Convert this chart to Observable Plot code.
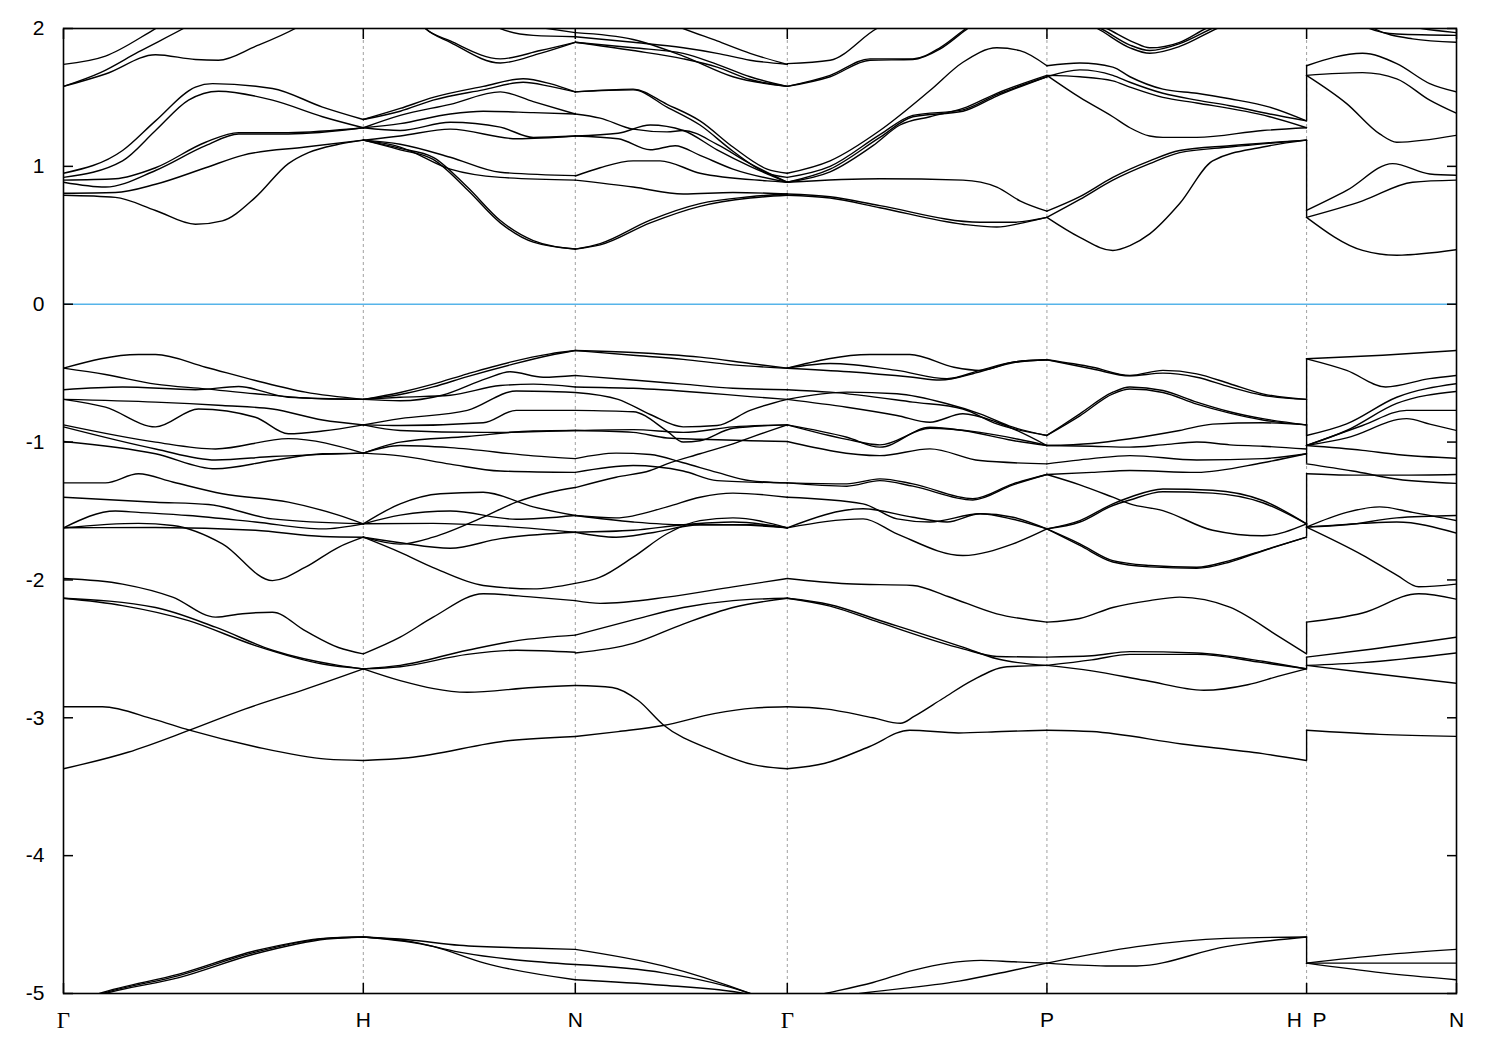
<!DOCTYPE html>
<html><head><meta charset="utf-8">
<script src="https://cdn.jsdelivr.net/npm/d3@7"></script>
<script src="https://cdn.jsdelivr.net/npm/@observablehq/plot@0.6"></script>
<style>body{margin:0;background:#fff}</style>
</head><body><div id="chart"></div>
<script>
// high-symmetry points along the k-path (units of 2π/a) and their labels
const kPoints = [0, 1, 1.7071, 2.4142, 3.2802, 4.1463, 4.6463];
const kLabels = ["Γ", "H", "N", "Γ", "P", "H\u2002P", "N"];
const yTicks = [-5, -4, -3, -2, -1, 0, 1, 2];

// bands per segment: each band is a list of [k, E(eV)]
const bandsGH = [
  [[0,1.74],[0.14,1.80],[0.30,1.99],[0.37,2.08]],
  [[0,1.58],[0.14,1.67],[0.307,1.81],[0.44,1.775],[0.517,1.77],[0.64,1.87],[0.773,2.0],[0.85,2.1]],
  [[0,1.58],[0.123,1.68],[0.25,1.83],[0.40,2.0],[0.45,2.06]],
  [[0,0.95],[0.197,1.115],[0.307,1.33],[0.44,1.575],[0.497,1.60],[0.697,1.565],[0.864,1.43],[1,1.34]],
  [[0,0.92],[0.197,1.04],[0.307,1.26],[0.417,1.48],[0.517,1.545],[0.697,1.48],[0.864,1.36],[1,1.28]],
  [[0,0.885],[0.14,0.85],[0.307,0.97],[0.474,1.15],[0.584,1.235],[0.75,1.235],[1,1.28]],
  [[0,0.90],[0.173,0.91],[0.307,0.99],[0.474,1.175],[0.584,1.245],[0.75,1.245],[1,1.28]],
  [[0,0.805],[0.173,0.81],[0.307,0.87],[0.474,0.99],[0.597,1.08],[0.807,1.14],[1,1.19]],
  [[0,0.79],[0.173,0.775],[0.307,0.68],[0.44,0.58],[0.53,0.605],[0.64,0.775],[0.75,1.02],[0.817,1.10],[0.917,1.16],[1,1.19]],
  [[0,-0.464],[0.25,-0.365],[0.307,-0.365],[0.474,-0.457],[0.64,-0.553],[0.807,-0.638],[1,-0.69]],
  [[0,-0.464],[0.14,-0.51],[0.307,-0.58],[0.474,-0.614],[0.64,-0.65],[0.864,-0.686],[1,-0.69]],
  [[0,-0.62],[0.197,-0.60],[0.44,-0.62],[0.584,-0.597],[0.75,-0.675],[1,-0.69]],
  [[0,-0.69],[0.307,-0.71],[0.53,-0.735],[0.697,-0.76],[0.864,-0.84],[1,-0.875]],
  [[0,-0.69],[0.14,-0.747],[0.307,-0.89],[0.45,-0.76],[0.64,-0.82],[0.75,-0.94],[0.864,-0.92],[1,-0.875]],
  [[0,-0.875],[0.307,-1.0],[0.507,-1.05],[0.75,-0.975],[1,-1.08]],
  [[0,-0.89],[0.307,-1.05],[0.507,-1.13],[0.697,-1.105],[1,-1.08]],
  [[0,-0.996],[0.307,-1.085],[0.507,-1.194],[0.697,-1.134],[0.864,-1.085],[1,-1.08]],
  [[0,-1.296],[0.14,-1.296],[0.25,-1.23],[0.364,-1.29],[0.53,-1.375],[0.75,-1.436],[0.917,-1.53],[1,-1.593]],
  [[0,-1.40],[0.307,-1.436],[0.484,-1.453],[0.697,-1.557],[1,-1.593]],
  [[0,-1.622],[0.173,-1.50],[0.25,-1.51],[0.417,-1.533],[0.64,-1.58],[0.864,-1.63],[1,-1.593]],
  [[0,-1.622],[0.25,-1.59],[0.364,-1.605],[0.53,-1.738],[0.697,-2.005],[0.807,-1.908],[0.917,-1.763],[1,-1.69]],
  [[0,-1.622],[0.307,-1.62],[0.64,-1.64],[0.864,-1.685],[1,-1.69]],
  [[0,-1.99],[0.197,-2.03],[0.364,-2.125],[0.507,-2.27],[0.597,-2.245],[0.697,-2.234],[0.807,-2.37],[0.917,-2.49],[1,-2.536]],
  [[0,-2.133],[0.307,-2.20],[0.507,-2.343],[0.697,-2.51],[0.917,-2.62],[1,-2.645]],
  [[0,-2.133],[0.197,-2.186],[0.417,-2.295],[0.64,-2.476],[0.864,-2.61],[1,-2.645]],
  [[0,-2.92],[0.13,-2.92],[0.30,-3.01],[0.42,-3.09],[0.64,-3.21],[0.878,-3.30],[1,-3.31]],
  [[0,-3.37],[0.215,-3.25],[0.42,-3.09],[0.607,-2.935],[0.81,-2.79],[1,-2.645]],
  [[0,-5.1],[0.13,-5.0],[0.385,-4.87],[0.64,-4.70],[0.878,-4.60],[1,-4.59]],
  [[0,-5.1],[0.14,-5.0],[0.385,-4.885],[0.64,-4.712],[0.878,-4.605],[1,-4.59]],
  [[0,-5.1],[0.12,-5.0],[0.385,-4.86],[0.64,-4.69],[0.878,-4.598],[1,-4.59]]
];

const bandsHN = [
  [[1,1.34],[1.123,1.42],[1.233,1.50],[1.40,1.58],[1.533,1.635],[1.623,1.60],[1.707,1.54]],
  [[1,1.34],[1.123,1.40],[1.233,1.48],[1.40,1.555],[1.533,1.61],[1.623,1.58],[1.707,1.54]],
  [[1,1.28],[1.123,1.37],[1.29,1.45],[1.457,1.54],[1.567,1.47],[1.707,1.38]],
  [[1,1.28],[1.123,1.31],[1.29,1.38],[1.40,1.40],[1.567,1.39],[1.707,1.38]],
  [[1,1.28],[1.123,1.26],[1.29,1.32],[1.457,1.285],[1.567,1.21],[1.707,1.22]],
  [[1,1.19],[1.123,1.22],[1.29,1.27],[1.513,1.20],[1.707,1.22]],
  [[1,1.19],[1.123,1.16],[1.29,1.066],[1.457,0.957],[1.707,0.933]],
  [[1,1.19],[1.123,1.14],[1.29,0.98],[1.457,0.92],[1.707,0.90]],
  [[1,1.19],[1.123,1.13],[1.233,1.066],[1.347,0.85],[1.457,0.607],[1.567,0.462],[1.707,0.40]],
  [[1,1.19],[1.123,1.12],[1.233,1.05],[1.347,0.83],[1.457,0.59],[1.567,0.45],[1.707,0.40]],
  [[1.18,2.06],[1.207,2.0],[1.29,1.91],[1.457,1.78],[1.59,1.84],[1.707,1.90]],
  [[1.18,2.06],[1.207,2.0],[1.29,1.90],[1.457,1.75],[1.59,1.82],[1.707,1.90]],
  [[1.43,2.05],[1.457,2.0],[1.567,1.95],[1.707,1.94]],
  [[1.55,2.02],[1.707,1.97]],
  [[1,-0.69],[1.123,-0.64],[1.233,-0.58],[1.347,-0.505],[1.49,-0.42],[1.623,-0.36],[1.707,-0.336]],
  [[1,-0.69],[1.123,-0.655],[1.233,-0.60],[1.347,-0.525],[1.49,-0.44],[1.623,-0.37],[1.707,-0.336]],
  [[1,-0.69],[1.123,-0.70],[1.263,-0.66],[1.41,-0.54],[1.49,-0.49],[1.60,-0.53],[1.707,-0.517]],
  [[1,-0.69],[1.123,-0.675],[1.29,-0.66],[1.457,-0.59],[1.567,-0.58],[1.707,-0.60]],
  [[1,-0.875],[1.123,-0.83],[1.347,-0.77],[1.51,-0.63],[1.707,-0.64]],
  [[1,-0.875],[1.123,-0.88],[1.40,-0.86],[1.51,-0.77],[1.707,-0.77]],
  [[1,-0.875],[1.123,-0.916],[1.40,-0.93],[1.707,-0.916]],
  [[1,-1.08],[1.123,-1.0],[1.347,-0.96],[1.567,-0.92],[1.707,-0.916]],
  [[1,-1.08],[1.123,-1.025],[1.29,-1.04],[1.567,-1.10],[1.707,-1.12]],
  [[1,-1.08],[1.123,-1.10],[1.29,-1.16],[1.457,-1.21],[1.707,-1.22]],
  [[1,-1.593],[1.123,-1.448],[1.257,-1.375],[1.40,-1.364],[1.567,-1.47],[1.707,-1.533]],
  [[1,-1.69],[1.123,-1.74],[1.233,-1.69],[1.40,-1.545],[1.51,-1.436],[1.623,-1.364],[1.707,-1.33]],
  [[1,-1.593],[1.123,-1.53],[1.29,-1.50],[1.51,-1.56],[1.707,-1.533]],
  [[1,-1.593],[1.233,-1.59],[1.457,-1.61],[1.707,-1.654]],
  [[1,-1.69],[1.123,-1.73],[1.29,-1.77],[1.457,-1.70],[1.707,-1.654]],
  [[1,-1.69],[1.123,-1.80],[1.233,-1.91],[1.40,-2.04],[1.567,-2.065],[1.707,-2.025]],
  [[1,-2.536],[1.123,-2.415],[1.233,-2.27],[1.40,-2.10],[1.567,-2.125],[1.707,-2.15]],
  [[1,-2.645],[1.123,-2.62],[1.347,-2.51],[1.513,-2.44],[1.707,-2.40]],
  [[1,-2.645],[1.123,-2.63],[1.347,-2.54],[1.513,-2.51],[1.707,-2.525]],
  [[1,-2.645],[1.123,-2.73],[1.347,-2.815],[1.567,-2.78],[1.707,-2.766]],
  [[1,-3.31],[1.15,-3.29],[1.49,-3.165],[1.707,-3.136]],
  [[1,-4.59],[1.15,-4.61],[1.32,-4.65],[1.55,-4.67],[1.707,-4.68]],
  [[1,-4.59],[1.15,-4.62],[1.32,-4.70],[1.707,-4.79]],
  [[1,-4.59],[1.235,-4.66],[1.405,-4.78],[1.707,-4.90]]
];

const bandsNG = [
  [[1.707,1.54],[1.90,1.56],[2.013,1.45],[2.123,1.33],[2.233,1.14],[2.347,0.98],[2.414,0.95]],
  [[1.707,1.54],[1.90,1.555],[2.013,1.43],[2.123,1.30],[2.233,1.11],[2.347,0.95],[2.414,0.92]],
  [[1.707,1.38],[1.79,1.35],[1.90,1.27],[2.013,1.25],[2.067,1.26],[2.18,1.16],[2.29,1.02],[2.414,0.885]],
  [[1.707,1.22],[1.85,1.20],[1.957,1.12],[2.04,1.15],[2.123,1.08],[2.233,0.98],[2.414,0.885]],
  [[1.707,1.22],[1.85,1.24],[1.957,1.30],[2.067,1.26],[2.18,1.12],[2.29,1.00],[2.414,0.885]],
  [[1.707,0.93],[1.79,0.99],[1.90,1.04],[1.99,1.04],[2.123,0.95],[2.347,0.895],[2.414,0.885]],
  [[1.707,0.90],[1.90,0.85],[2.067,0.80],[2.233,0.81],[2.414,0.80]],
  [[1.707,0.40],[1.79,0.44],[1.957,0.61],[2.123,0.73],[2.29,0.78],[2.414,0.80]],
  [[1.707,0.40],[1.79,0.43],[1.957,0.59],[2.123,0.71],[2.29,0.77],[2.414,0.79]],
  [[1.707,1.90],[1.90,1.86],[2.067,1.82],[2.18,1.74],[2.29,1.65],[2.414,1.58]],
  [[1.707,1.90],[1.90,1.84],[2.067,1.78],[2.18,1.72],[2.29,1.63],[2.414,1.58]],
  [[1.707,1.94],[1.90,1.90],[2.067,1.86],[2.18,1.82],[2.29,1.77],[2.414,1.74]],
  [[1.707,1.97],[1.90,1.92],[2.067,1.80],[2.233,1.65],[2.414,1.58]],
  [[2.0,2.06],[2.067,2.0],[2.18,1.91],[2.29,1.82],[2.414,1.74]],
  [[1.707,-0.336],[1.90,-0.35],[2.123,-0.384],[2.29,-0.43],[2.414,-0.464]],
  [[1.707,-0.336],[1.90,-0.37],[2.067,-0.40],[2.233,-0.44],[2.414,-0.464]],
  [[1.707,-0.517],[1.90,-0.55],[2.067,-0.58],[2.233,-0.61],[2.414,-0.62]],
  [[1.707,-0.60],[1.90,-0.61],[2.123,-0.64],[2.29,-0.67],[2.414,-0.69]],
  [[1.707,-0.64],[1.85,-0.69],[1.957,-0.80],[2.067,-0.89],[2.18,-0.88],[2.29,-0.77],[2.414,-0.69]],
  [[1.707,-0.77],[1.90,-0.78],[2.013,-0.92],[2.067,-1.0],[2.123,-0.99],[2.233,-0.90],[2.414,-0.875]],
  [[1.707,-0.916],[1.90,-0.91],[2.067,-0.93],[2.233,-0.89],[2.414,-0.875]],
  [[1.707,-0.916],[1.90,-0.93],[2.013,-0.97],[2.123,-0.98],[2.29,-0.99],[2.414,-0.996]],
  [[1.707,-1.12],[1.843,-1.08],[1.957,-1.09],[2.067,-1.15],[2.18,-1.22],[2.29,-1.28],[2.414,-1.296]],
  [[1.707,-1.22],[1.90,-1.17],[2.067,-1.21],[2.18,-1.28],[2.414,-1.296]],
  [[1.707,-1.33],[1.843,-1.255],[1.957,-1.206],[2.013,-1.158],[2.123,-1.085],[2.233,-1.013],[2.30,-0.96],[2.414,-0.875]],
  [[1.707,-1.533],[1.843,-1.55],[2.013,-1.47],[2.123,-1.40],[2.233,-1.37],[2.414,-1.40]],
  [[1.707,-1.533],[1.90,-1.58],[2.067,-1.60],[2.233,-1.60],[2.414,-1.622]],
  [[1.707,-1.654],[1.90,-1.64],[2.067,-1.60],[2.233,-1.58],[2.414,-1.622]],
  [[1.707,-1.654],[1.843,-1.69],[1.957,-1.66],[2.123,-1.60],[2.29,-1.60],[2.414,-1.622]],
  [[1.707,-2.025],[1.79,-1.98],[1.90,-1.835],[2.013,-1.665],[2.123,-1.57],[2.233,-1.55],[2.414,-1.622]],
  [[1.707,-2.15],[1.79,-2.17],[2.013,-2.125],[2.233,-2.05],[2.414,-1.99]],
  [[1.707,-2.40],[1.90,-2.29],[2.067,-2.20],[2.233,-2.15],[2.414,-2.133]],
  [[1.707,-2.53],[1.90,-2.46],[2.067,-2.32],[2.233,-2.20],[2.414,-2.133]],
  [[1.707,-2.766],[1.83,-2.78],[1.917,-2.875],[2.0,-3.05],[2.17,-3.24],[2.30,-3.34],[2.414,-3.37]],
  [[1.707,-3.136],[1.85,-3.10],[2.0,-3.056],[2.17,-2.97],[2.30,-2.93],[2.414,-2.92]],
  [[1.707,-4.68],[2.0,-4.80],[2.29,-5.0],[2.35,-5.05]],
  [[1.707,-4.79],[2.0,-4.85],[2.29,-5.0],[2.35,-5.05]],
  [[1.707,-4.90],[2.0,-4.94],[2.27,-5.0],[2.33,-5.03]]
];

const bandsGP = [
  [[2.414,0.95],[2.557,1.04],[2.723,1.26],[2.89,1.55],[3.0,1.755],[3.113,1.86],[3.19,1.84],[3.28,1.73]],
  [[2.414,0.885],[2.557,0.98],[2.723,1.21],[2.833,1.36],[3.0,1.40],[3.113,1.51],[3.28,1.65]],
  [[2.414,0.885],[2.557,0.96],[2.70,1.15],[2.79,1.30],[2.89,1.36],[3.0,1.42],[3.113,1.53],[3.28,1.66]],
  [[2.414,0.92],[2.557,1.0],[2.723,1.23],[2.833,1.37],[3.0,1.41],[3.113,1.52],[3.28,1.65]],
  [[2.414,0.885],[2.723,0.91],[3.0,0.90],[3.113,0.85],[3.19,0.75],[3.28,0.675]],
  [[2.414,0.80],[2.557,0.78],[2.723,0.715],[3.057,0.595],[3.167,0.595],[3.28,0.63]],
  [[2.414,0.79],[2.557,0.77],[2.723,0.70],[3.0,0.58],[3.113,0.56],[3.20,0.59],[3.28,0.63]],
  [[2.414,1.745],[2.557,1.77],[2.713,2.0],[2.78,2.07]],
  [[2.414,1.58],[2.557,1.66],[2.69,1.78],[2.833,1.78],[2.923,1.86],[3.01,2.0],[3.05,2.06]],
  [[2.414,1.58],[2.557,1.65],[2.69,1.77],[2.833,1.775],[2.923,1.85],[3.01,1.99],[3.05,2.05]],
  [[2.414,-0.464],[2.69,-0.365],[2.823,-0.365],[2.97,-0.457],[3.057,-0.48],[3.167,-0.42],[3.28,-0.403]],
  [[2.414,-0.464],[2.557,-0.43],[2.78,-0.48],[2.947,-0.54],[3.057,-0.48],[3.167,-0.42],[3.28,-0.403]],
  [[2.414,-0.464],[2.62,-0.49],[2.833,-0.53],[2.923,-0.55],[3.057,-0.49],[3.167,-0.425],[3.28,-0.403]],
  [[2.414,-0.62],[2.557,-0.638],[2.833,-0.71],[3.0,-0.76],[3.113,-0.868],[3.28,-0.952]],
  [[2.414,-0.69],[2.613,-0.638],[2.78,-0.65],[2.947,-0.722],[3.057,-0.795],[3.167,-0.892],[3.28,-0.952]],
  [[2.414,-0.69],[2.613,-0.747],[2.78,-0.807],[2.89,-0.856],[3.0,-0.795],[3.113,-0.856],[3.28,-1.025]],
  [[2.414,-0.875],[2.613,-0.965],[2.723,-1.037],[2.89,-0.892],[3.0,-0.916],[3.167,-0.989],[3.28,-1.025]],
  [[2.414,-0.875],[2.613,-0.98],[2.723,-1.02],[2.89,-0.90],[3.057,-0.93],[3.28,-1.025]],
  [[2.414,-0.996],[2.723,-1.098],[2.89,-1.049],[3.057,-1.134],[3.28,-1.158]],
  [[2.414,-1.296],[2.613,-1.303],[2.723,-1.267],[2.833,-1.303],[3.033,-1.41],[3.167,-1.303],[3.28,-1.235]],
  [[2.414,-1.296],[2.613,-1.32],[2.723,-1.28],[2.833,-1.32],[3.033,-1.42],[3.167,-1.31],[3.28,-1.235]],
  [[2.414,-1.40],[2.667,-1.448],[2.78,-1.557],[2.89,-1.58],[3.057,-1.52],[3.167,-1.545],[3.28,-1.63]],
  [[2.414,-1.622],[2.667,-1.484],[2.833,-1.545],[2.947,-1.58],[3.057,-1.52],[3.167,-1.56],[3.28,-1.63]],
  [[2.414,-1.622],[2.667,-1.557],[2.78,-1.666],[3.0,-1.823],[3.167,-1.738],[3.28,-1.63]],
  [[2.414,-1.99],[2.613,-2.028],[2.833,-2.04],[2.95,-2.12],[3.113,-2.246],[3.28,-2.306]],
  [[2.414,-2.133],[2.557,-2.18],[2.723,-2.294],[3.0,-2.488],[3.113,-2.572],[3.28,-2.62]],
  [[2.414,-2.133],[2.557,-2.19],[2.723,-2.31],[3.0,-2.50],[3.113,-2.555],[3.28,-2.56]],
  [[2.414,-2.92],[2.54,-2.935],[2.70,-3.00],[2.792,-3.04],[2.837,-2.99],[2.933,-2.86],[3.03,-2.73],[3.147,-2.63],[3.28,-2.62]],
  [[2.414,-3.37],[2.54,-3.33],[2.687,-3.21],[2.822,-3.09],[2.985,-3.11],[3.13,-3.10],[3.28,-3.09]],
  [[2.414,-5.06],[2.54,-5.0],[2.70,-4.92],[2.837,-4.83],[2.95,-4.78],[3.06,-4.76],[3.17,-4.77],[3.28,-4.78]],
  [[2.414,-5.08],[2.657,-5.0],[2.987,-4.91],[3.15,-4.84],[3.28,-4.78]]
];

const bandsPH = [
  [[3.28,1.73],[3.39,1.75],[3.5,1.72],[3.557,1.65],[3.667,1.56],[3.78,1.53],[3.89,1.49],[4.023,1.43],[4.146,1.33]],
  [[3.28,1.65],[3.39,1.70],[3.5,1.66],[3.557,1.61],[3.667,1.53],[3.78,1.48],[3.89,1.44],[4.023,1.38],[4.146,1.33]],
  [[3.28,1.66],[3.39,1.65],[3.5,1.62],[3.557,1.575],[3.667,1.50],[3.78,1.46],[4.023,1.36],[4.146,1.28]],
  [[3.28,1.66],[3.39,1.50],[3.5,1.36],[3.557,1.28],[3.623,1.22],[3.667,1.21],[3.78,1.21],[4.0,1.26],[4.146,1.28]],
  [[3.28,0.675],[3.39,0.78],[3.5,0.92],[3.623,1.04],[3.723,1.115],[3.89,1.15],[4.146,1.19]],
  [[3.28,0.63],[3.39,0.76],[3.5,0.90],[3.623,1.02],[3.723,1.10],[3.89,1.14],[4.146,1.19]],
  [[3.28,0.63],[3.39,0.485],[3.5,0.39],[3.557,0.425],[3.623,0.51],[3.723,0.73],[3.833,1.04],[4.0,1.14],[4.146,1.19]],
  [[3.40,2.05],[3.448,2.0],[3.557,1.86],[3.623,1.82],[3.723,1.87],[3.847,2.0],[3.90,2.05]],
  [[3.40,2.06],[3.46,2.0],[3.557,1.88],[3.623,1.84],[3.723,1.89],[3.83,2.0],[3.88,2.05]],
  [[3.42,2.06],[3.48,2.0],[3.57,1.90],[3.623,1.86],[3.723,1.90],[3.81,2.0],[3.86,2.05]],
  [[3.28,-0.403],[3.433,-0.457],[3.557,-0.517],[3.667,-0.48],[3.78,-0.505],[3.89,-0.577],[4.0,-0.65],[4.146,-0.69]],
  [[3.28,-0.403],[3.433,-0.47],[3.557,-0.52],[3.667,-0.50],[3.78,-0.53],[3.89,-0.60],[4.0,-0.66],[4.146,-0.69]],
  [[3.28,-0.952],[3.39,-0.795],[3.50,-0.638],[3.557,-0.60],[3.667,-0.626],[3.78,-0.71],[3.89,-0.78],[4.0,-0.83],[4.146,-0.875]],
  [[3.28,-0.952],[3.39,-0.81],[3.50,-0.65],[3.557,-0.615],[3.667,-0.64],[3.78,-0.725],[3.89,-0.79],[4.0,-0.84],[4.146,-0.875]],
  [[3.28,-1.025],[3.43,-1.01],[3.557,-0.976],[3.723,-0.916],[3.833,-0.87],[4.0,-0.86],[4.146,-0.875]],
  [[3.28,-1.025],[3.43,-1.03],[3.557,-1.037],[3.667,-1.02],[3.78,-1.0],[3.89,-1.02],[4.0,-1.03],[4.146,-1.05]],
  [[3.28,-1.158],[3.43,-1.12],[3.557,-1.098],[3.78,-1.13],[4.0,-1.12],[4.146,-1.085]],
  [[3.28,-1.235],[3.43,-1.22],[3.557,-1.206],[3.78,-1.22],[4.0,-1.15],[4.146,-1.085]],
  [[3.28,-1.63],[3.39,-1.57],[3.50,-1.448],[3.557,-1.40],[3.667,-1.34],[3.833,-1.35],[4.0,-1.424],[4.146,-1.593]],
  [[3.28,-1.63],[3.39,-1.58],[3.50,-1.46],[3.557,-1.42],[3.667,-1.36],[3.833,-1.37],[4.0,-1.44],[4.146,-1.593]],
  [[3.28,-1.63],[3.39,-1.738],[3.50,-1.86],[3.623,-1.895],[3.78,-1.908],[3.89,-1.86],[4.0,-1.787],[4.146,-1.69]],
  [[3.28,-1.63],[3.39,-1.75],[3.50,-1.87],[3.623,-1.905],[3.78,-1.915],[3.89,-1.87],[4.0,-1.79],[4.146,-1.69]],
  [[3.28,-1.235],[3.39,-1.31],[3.50,-1.40],[3.557,-1.448],[3.667,-1.497],[3.833,-1.64],[4.0,-1.68],[4.146,-1.593]],
  [[3.28,-2.306],[3.39,-2.28],[3.50,-2.20],[3.623,-2.15],[3.723,-2.125],[3.89,-2.198],[4.057,-2.415],[4.146,-2.536]],
  [[3.28,-2.56],[3.43,-2.55],[3.557,-2.52],[3.78,-2.53],[4.0,-2.59],[4.146,-2.645]],
  [[3.28,-2.62],[3.43,-2.58],[3.557,-2.54],[3.78,-2.54],[4.0,-2.60],[4.146,-2.645]],
  [[3.28,-2.62],[3.43,-2.66],[3.61,-2.73],[3.803,-2.80],[3.95,-2.76],[4.05,-2.70],[4.146,-2.645]],
  [[3.28,-3.09],[3.43,-3.10],[3.73,-3.19],[4.0,-3.26],[4.146,-3.31]],
  [[3.28,-4.78],[3.477,-4.80],[3.58,-4.80],[3.877,-4.66],[4.146,-4.59]],
  [[3.28,-4.78],[3.58,-4.66],[3.877,-4.60],[4.146,-4.59]]
];

const bandsPN = [
  [[4.146,1.73],[4.333,1.82],[4.447,1.745],[4.557,1.60],[4.646,1.54]],
  [[4.146,1.66],[4.333,1.68],[4.447,1.635],[4.557,1.48],[4.646,1.385]],
  [[4.146,1.66],[4.28,1.455],[4.39,1.235],[4.447,1.175],[4.646,1.225]],
  [[4.146,0.68],[4.28,0.825],[4.433,1.02],[4.557,0.945],[4.646,0.935]],
  [[4.146,0.63],[4.333,0.75],[4.5,0.885],[4.646,0.90]],
  [[4.146,0.63],[4.333,0.39],[4.447,0.355],[4.646,0.395]],
  [[4.32,2.04],[4.357,2.0],[4.447,1.96],[4.646,1.95]],
  [[4.34,2.05],[4.37,2.0],[4.50,1.925],[4.646,1.90]],
  [[4.48,2.02],[4.53,2.0],[4.646,1.97]],
  [[4.146,-0.396],[4.40,-0.37],[4.646,-0.336]],
  [[4.146,-0.396],[4.28,-0.48],[4.41,-0.60],[4.557,-0.54],[4.646,-0.517]],
  [[4.146,-0.952],[4.28,-0.868],[4.447,-0.675],[4.646,-0.577]],
  [[4.146,-1.025],[4.28,-0.916],[4.447,-0.72],[4.646,-0.633]],
  [[4.146,-1.025],[4.333,-0.88],[4.48,-0.77],[4.646,-0.77]],
  [[4.146,-1.025],[4.28,-0.97],[4.48,-0.83],[4.557,-0.87],[4.646,-0.916]],
  [[4.146,-1.025],[4.333,-1.06],[4.447,-1.09],[4.646,-1.117]],
  [[4.146,-1.158],[4.30,-1.21],[4.45,-1.27],[4.646,-1.30]],
  [[4.146,-1.23],[4.30,-1.24],[4.45,-1.24],[4.646,-1.235]],
  [[4.146,-1.617],[4.28,-1.51],[4.39,-1.47],[4.50,-1.51],[4.646,-1.57]],
  [[4.146,-1.617],[4.333,-1.59],[4.447,-1.58],[4.646,-1.66]],
  [[4.146,-1.617],[4.28,-1.60],[4.447,-1.55],[4.646,-1.533]],
  [[4.146,-1.617],[4.333,-1.82],[4.447,-1.965],[4.52,-2.05],[4.646,-2.03]],
  [[4.146,-2.306],[4.333,-2.24],[4.52,-2.10],[4.646,-2.14]],
  [[4.146,-2.56],[4.333,-2.51],[4.646,-2.415]],
  [[4.146,-2.62],[4.333,-2.60],[4.646,-2.53]],
  [[4.146,-2.62],[4.333,-2.67],[4.646,-2.75]],
  [[4.146,-3.09],[4.39,-3.12],[4.646,-3.135]],
  [[4.146,-4.78],[4.40,-4.72],[4.646,-4.68]],
  [[4.146,-4.78],[4.646,-4.78]],
  [[4.146,-4.78],[4.40,-4.85],[4.646,-4.90]]
];

// energies joined by the vertical step at the H|P break: [E at H, E at P]
const hpJumps = [[1.33,1.73],[1.19,0.63],[-0.69,-0.396],[-0.69,-0.952],[-0.875,-1.158],
  [-1.69,-1.23],[-1.593,-1.617],[-2.536,-2.306],[-2.645,-2.56],[-3.31,-3.09],[-4.59,-4.78]];

const segments = [bandsGH, bandsHN, bandsNG, bandsGP, bandsPH, bandsPN];
const lineData = segments.flatMap((seg, si) =>
  seg.flatMap((band, bi) => band.map(([k, e]) => ({k, e, id: `${si}-${bi}`}))));
const labelData = kLabels.map((label, i) => ({k: kPoints[i], label}));
const breakK = kPoints[5];

const chart = Plot.plot({
  width: 1500,
  height: 1050,
  marginLeft: 63,
  marginRight: 44,
  marginTop: 28,
  marginBottom: 57,
  style: {fontFamily: "'Liberation Sans', Arial, sans-serif", fontSize: "22px", background: "#fff", color: "#000"},
  x: {domain: [kPoints[0], kPoints[kPoints.length - 1]]},
  y: {domain: [yTicks[0], yTicks[yTicks.length - 1]]},
  marks: [
    Plot.ruleX(kPoints.slice(1, -1), {stroke: "#a0a0a0", strokeWidth: 1, strokeDasharray: "3,3"}),
    Plot.ruleY([0], {stroke: "#56b4e9", strokeWidth: 1.6}),
    Plot.line(lineData, {x: "k", y: "e", z: "id", curve: "monotone-x", stroke: "#000", strokeWidth: 1.4, clip: true}),
    Plot.ruleX(hpJumps, {x: () => breakK, y1: d => d[0], y2: d => d[1], stroke: "#000", strokeWidth: 1.4}),
    Plot.frame({stroke: "#000", strokeWidth: 1.6}),
    Plot.axisY({anchor: "left", ticks: yTicks, tickSize: -10, tickPadding: 29, tickFormat: d => String(d), label: null, strokeWidth: 1.5, fontSize: 21}),
    Plot.axisY({anchor: "right", ticks: yTicks, tickSize: -10, tickFormat: () => "", label: null, strokeWidth: 1.5}),
    Plot.axisX({anchor: "bottom", ticks: kPoints, tickSize: -10, tickFormat: () => "", label: null, strokeWidth: 1.5}),
    Plot.axisX({anchor: "top", ticks: kPoints, tickSize: -10, tickFormat: () => "", label: null, strokeWidth: 1.5}),
    Plot.text(labelData.filter(d => d.label !== "Γ"), {x: "k", text: "label", frameAnchor: "bottom", lineAnchor: "middle", dy: 27, fontSize: 21, fill: "#000"}),
    Plot.text(labelData.filter(d => d.label === "Γ"), {x: "k", text: "label", frameAnchor: "bottom", lineAnchor: "middle", dy: 27, fontSize: 23, fill: "#000", fontFamily: "'Liberation Serif', 'DejaVu Serif', serif"})
  ]
});
document.getElementById("chart").appendChild(chart);
</script>
</body></html>
